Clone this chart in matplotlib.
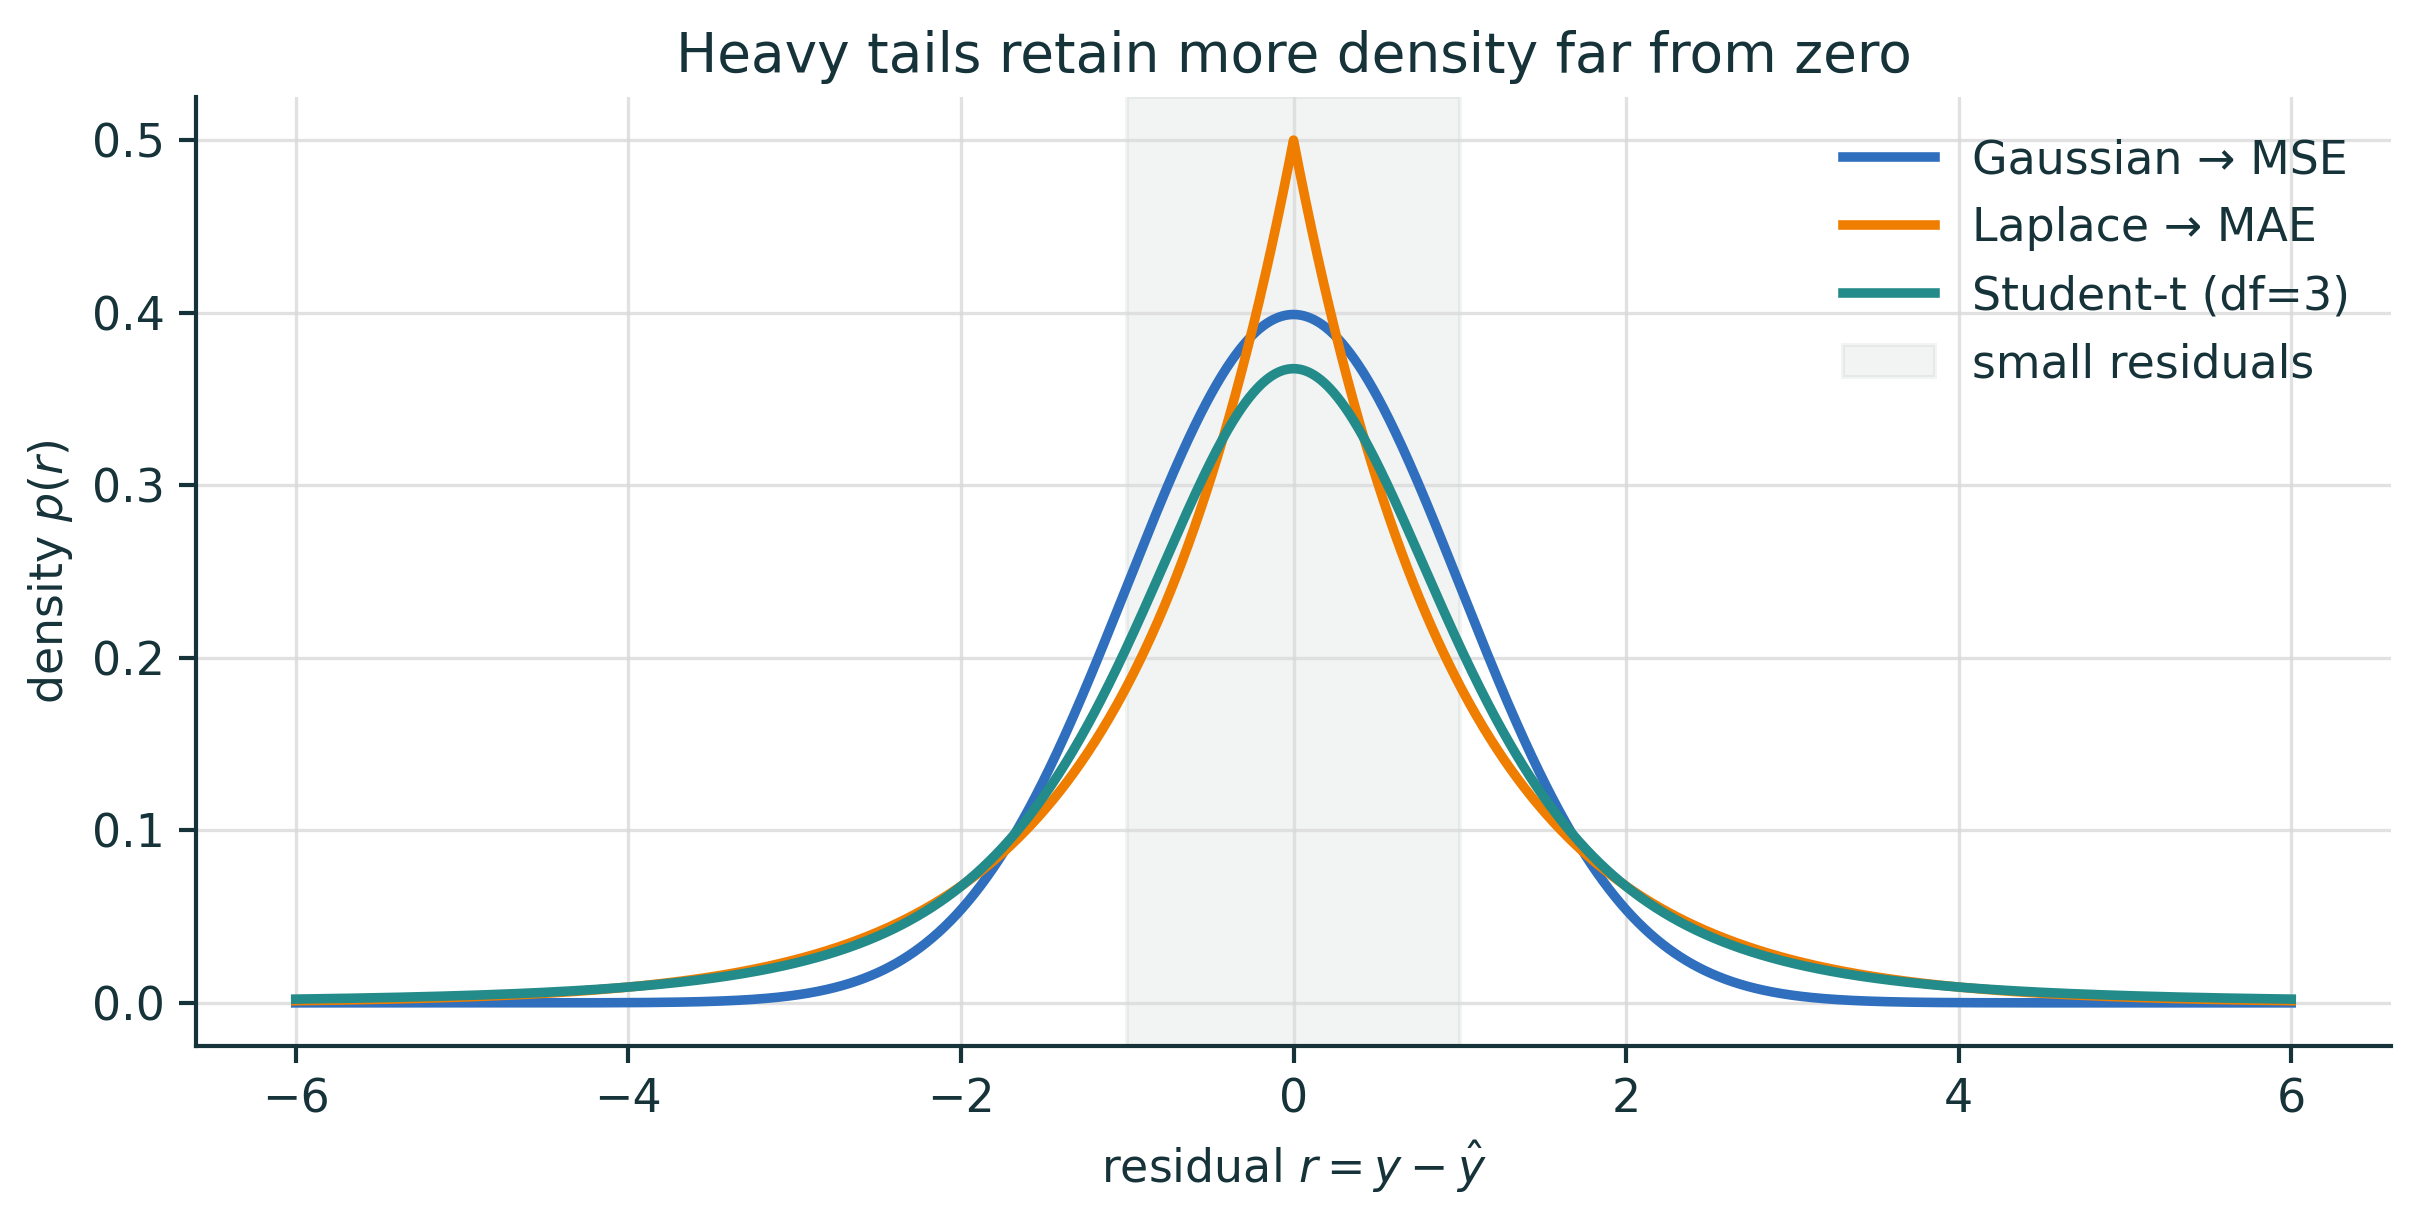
"""
Densidades de residuales: gaussiana, laplace y student-t
"""
import math
import matplotlib
matplotlib.use('Agg')
import matplotlib.pyplot as plt
import numpy as np

# Datos del gráfico
labels = ['Gaussian → MSE', 'Laplace → MAE', 'Student-t (df=3)']
colors = ['#2f6fbd', '#ef7d00', '#238b89']
gauss_sigma = 1.0
laplace_b = 1.0
student_df = 3
r_range = [-6, 6]
band = [-1, 1]
band_label = 'small residuals'
x_ticks = [-6, -4, -2, 0, 2, 4, 6]
y_ticks = [0.0, 0.1, 0.2, 0.3, 0.4, 0.5]

TEXT = '#17333a'

plt.rcParams['font.family'] = ['DejaVu Sans']
plt.rcParams['text.color'] = TEXT
plt.rcParams['axes.labelcolor'] = TEXT
plt.rcParams['xtick.color'] = TEXT
plt.rcParams['ytick.color'] = TEXT

r = np.linspace(r_range[0], r_range[1], 2001)
gauss = np.exp(-0.5 * (r / gauss_sigma) ** 2) / (gauss_sigma * np.sqrt(2 * np.pi))
laplace = np.exp(-np.abs(r) / laplace_b) / (2 * laplace_b)
nu = student_df
c = math.gamma((nu + 1) / 2) / (math.sqrt(nu * math.pi) * math.gamma(nu / 2))
student = c * (1 + r ** 2 / nu) ** (-(nu + 1) / 2)

fig = plt.figure(figsize=(2419 / 300, 1221 / 300), dpi=300)
ax = fig.add_axes([196 / 2419, 1 - 1046 / 1221, (2391 - 196) / 2419, (1046 - 97) / 1221])

ax.axvspan(band[0], band[1], color='#9aaaa3', alpha=0.13, label=band_label, zorder=0)
for y, lab, col in zip([gauss, laplace, student], labels, colors):
    ax.plot(r, y, color=col, linewidth=2.3, label=lab, zorder=2)

ax.set_xticks(x_ticks)
ax.set_yticks(y_ticks)
ax.set_xticklabels([f'{t:d}'.replace('-', '\u2212') for t in x_ticks])
ax.set_yticklabels([f'{t:.1f}' for t in y_ticks])
ax.tick_params(labelsize=11, width=1.0, length=4)
ax.grid(True, color='#d8d8d8', alpha=0.75, linewidth=0.8, zorder=0)
ax.set_axisbelow(True)

for s in ['top', 'right']:
    ax.spines[s].set_visible(False)
for s in ['left', 'bottom']:
    ax.spines[s].set_color(TEXT)
    ax.spines[s].set_linewidth(1.0)

ax.set_xlabel(r'residual $r = y - \hat{y}$', fontsize=11)
ax.set_ylabel(r'density $p(r)$', fontsize=11)
ax.set_title('Heavy tails retain more density far from zero', fontsize=13.2, color=TEXT)

handles, labs = ax.get_legend_handles_labels()
order = [1, 2, 3, 0]
ax.legend([handles[i] for i in order], [labs[i] for i in order],
          loc='upper right', frameon=False, fontsize=11)

fig.savefig('out.png', dpi=300)
